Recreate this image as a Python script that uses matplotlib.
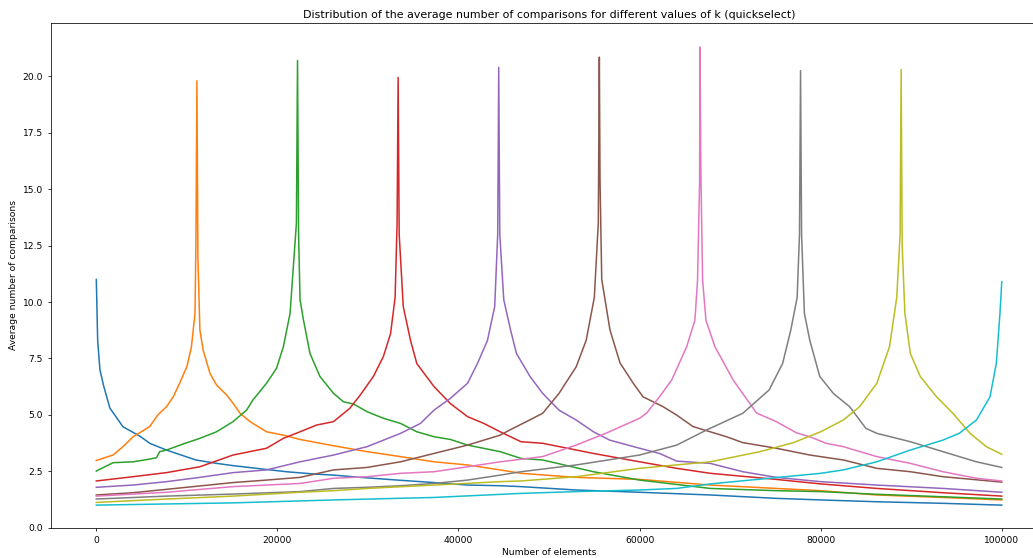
import matplotlib
matplotlib.use("Agg")
import matplotlib.pyplot as plt

# k values where each curve peaks
k_values = [0, 11111, 22222, 33333, 44444, 55555, 66666, 77777, 88888, 100000]

# values, one (x, y) list pair per k
x_k0 = [0, 150, 400, 800, 1500, 2950, 4800, 5900, 7750, 11000, 13300, 15100, 18800,
        21000, 24000, 26200, 29150, 33600, 37300, 41000, 44600, 46900, 53000, 60000,
        67800, 75100, 80000, 86200, 93500, 100000]
y_k0 = [11.0, 8.3, 7.0, 6.3, 5.3, 4.47, 4.06, 3.74, 3.44, 3.0, 2.85, 2.75, 2.58,
        2.48, 2.38, 2.33, 2.23, 2.1, 2.0, 1.89, 1.86, 1.82, 1.67, 1.57,
        1.45, 1.3, 1.23, 1.15, 1.08, 1.0]

x_k1 = [0, 1850, 2950, 4060, 4800, 5900, 6800, 7750, 8500, 9200, 10000, 10500, 10900,
        11000, 11111, 11220, 11440, 11800, 12550, 13280, 14390, 15130, 15870, 16980,
        18800, 20660, 22500, 24350, 26200, 29900, 33600, 37300, 41000, 44600, 46900,
        53000, 60000, 67800, 75100, 80000, 86200, 93500, 100000]
y_k1 = [2.98, 3.22, 3.59, 4.03, 4.21, 4.48, 5.0, 5.36, 5.8, 6.4, 7.13, 8.0, 9.5,
        12.5, 19.8, 12.0, 8.76, 7.87, 6.84, 6.32, 5.88, 5.5, 5.07, 4.7,
        4.25, 4.1, 3.91, 3.77, 3.63, 3.37, 3.15, 2.92, 2.78, 2.56, 2.41,
        2.23, 2.14, 1.89, 1.74, 1.64, 1.45, 1.34, 1.23]

x_k2 = [0, 1850, 4060, 5900, 6640, 7000, 7750, 9600, 11440, 13280, 15100, 16600, 17300,
        18800, 19900, 20660, 21400, 22100, 22222, 22340, 22500, 22880, 23600, 24700,
        26200, 27300, 28400, 29900, 31700, 33600, 35400, 37300, 39100, 41000, 44600,
        46900, 49300, 54900, 60000, 67800, 75100, 80000, 86200, 93500, 100000]
y_k2 = [2.51, 2.88, 2.92, 3.04, 3.1, 3.37, 3.44, 3.71, 3.96, 4.25, 4.7, 5.21, 5.66,
        6.4, 7.06, 8.02, 9.5, 13.5, 20.7, 13.0, 10.1, 9.2, 7.72, 6.7,
        5.95, 5.58, 5.48, 5.14, 4.85, 4.62, 4.25, 4.03, 3.91, 3.66, 3.37,
        3.07, 3.0, 2.48, 2.11, 1.74, 1.64, 1.6, 1.48, 1.37, 1.27]

x_k3 = [0, 4060, 7750, 11440, 15100, 18800, 20660, 22500, 24350, 26200, 28000, 29150,
        30600, 31700, 32500, 33000, 33220, 33333, 33450, 33900, 34700, 35400, 37300,
        39100, 41000, 42800, 44600, 46900, 49300, 54900, 60000, 64100, 67800, 75100,
        80000, 86200, 93500, 100000]
y_k3 = [2.07, 2.26, 2.44, 2.7, 3.22, 3.52, 3.96, 4.25, 4.55, 4.7, 5.29, 5.88,
        6.7, 7.58, 8.6, 10.2, 13.5, 19.95, 13.0, 9.8, 8.3, 7.27, 6.25,
        5.5, 4.92, 4.62, 4.25, 3.81, 3.74, 3.29, 2.92, 2.63, 2.41, 2.14,
        1.94, 1.74, 1.55, 1.4]

x_k4 = [0, 4060, 7750, 11440, 15100, 18800, 22500, 26200, 29900, 33600, 35800, 37300,
        39100, 41000, 42100, 43200, 44000, 44330, 44444, 44560, 45000, 45750, 46400,
        47900, 49300, 51100, 53000, 54900, 56700, 60000, 62200, 64100, 67800, 71400,
        75100, 80000, 86200, 93500, 100000]
y_k4 = [1.79, 1.89, 2.04, 2.23, 2.44, 2.56, 2.92, 3.22, 3.59, 4.18, 4.62, 5.21,
        5.73, 6.4, 7.28, 8.3, 9.8, 13.0, 20.4, 13.0, 10.1, 8.76, 7.72,
        6.7, 5.95, 5.21, 4.77, 4.25, 3.88, 3.52, 3.29, 2.95, 2.85, 2.48,
        2.23, 2.04, 1.89, 1.74, 1.57]

x_k5 = [0, 4060, 7750, 11440, 15100, 18800, 22500, 26200, 29900, 33600, 37300, 41000,
        44600, 45670, 47500, 49300, 51100, 53000, 54100, 55000, 55440, 55555, 55630,
        55820, 56730, 57840, 59300, 60380, 62600, 64100, 65900, 67800, 69600, 71400,
        75100, 78800, 82500, 86200, 89900, 93500, 100000]
y_k5 = [1.45, 1.55, 1.7, 1.85, 2.0, 2.11, 2.23, 2.56, 2.67, 2.92, 3.29, 3.66,
        4.1, 4.33, 4.7, 5.07, 5.95, 7.13, 8.3, 10.2, 13.5, 20.85, 15.4,
        11.0, 8.76, 7.3, 6.4, 5.8, 5.36, 4.99, 4.48, 4.25, 4.03, 3.77,
        3.52, 3.22, 3.0, 2.63, 2.48, 2.26, 2.02]

x_k6 = [0, 7750, 15100, 22500, 26200, 29900, 33600, 37300, 41000, 44600, 49300, 53000,
        56370, 60000, 60780, 62200, 63540, 65200, 66110, 66400, 66630, 66666, 66780,
        66960, 67330, 68320, 70340, 72920, 75100, 77340, 78800, 80600, 82500, 86200,
        89900, 93500, 97200, 100000]
y_k6 = [1.4, 1.57, 1.82, 1.96, 2.19, 2.26, 2.41, 2.48, 2.7, 2.92, 3.15, 3.66,
        4.2, 4.85, 5.08, 5.8, 6.54, 8.02, 9.19, 10.97, 15.4, 21.3, 15.4,
        10.97, 9.19, 8.02, 6.54, 5.08, 4.7, 4.2, 4.03, 3.74, 3.59, 3.15,
        2.85, 2.48, 2.19, 2.07]

x_k7 = [0, 7750, 15100, 22500, 26200, 29900, 33600, 37300, 41000, 44600, 46900, 53000,
        60000, 64100, 67400, 71400, 74300, 75800, 76700, 77400, 77660, 77777, 77890,
        78200, 78800, 79900, 81400, 83200, 85000, 86200, 89900, 93500, 97200, 100000]
y_k7 = [1.27, 1.4, 1.49, 1.6, 1.74, 1.79, 1.86, 1.96, 2.11, 2.33, 2.48, 2.78,
        3.22, 3.66, 4.33, 5.07, 6.1, 7.28, 8.76, 10.2, 13.0, 20.25, 13.0,
        9.5, 8.3, 6.7, 5.95, 5.36, 4.4, 4.18, 3.81, 3.37, 2.92, 2.67]

x_k8 = [0, 7750, 15100, 22500, 26200, 29900, 37300, 44600, 46900, 53000, 60000, 67800,
        73300, 77000, 80000, 82500, 84300, 86200, 87600, 88400, 88770, 88888, 89000,
        89300, 89900, 91000, 92800, 94600, 96500, 98300, 100000]
y_k8 = [1.12, 1.27, 1.4, 1.57, 1.64, 1.74, 1.89, 2.04, 2.07, 2.26, 2.63, 2.92,
        3.37, 3.77, 4.25, 4.77, 5.36, 6.4, 8.02, 10.2, 13.0, 20.3, 12.5,
        9.5, 7.72, 6.7, 5.8, 5.07, 4.18, 3.59, 3.25]

x_k9 = [0, 15100, 26200, 37300, 46900, 53000, 60000, 64100, 67800, 75100, 80000, 82500,
        86200, 89900, 93500, 95300, 97200, 98700, 99400, 99800, 100000]
y_k9 = [1.0, 1.1, 1.23, 1.34, 1.52, 1.6, 1.67, 1.74, 1.94, 2.22, 2.41, 2.56,
        2.92, 3.44, 3.88, 4.18, 4.77, 5.8, 7.28, 9.5, 10.9]

series_x = [x_k0, x_k1, x_k2, x_k3, x_k4, x_k5, x_k6, x_k7, x_k8, x_k9]
series_y = [y_k0, y_k1, y_k2, y_k3, y_k4, y_k5, y_k6, y_k7, y_k8, y_k9]

fig = plt.figure(figsize=(10.33, 5.58), dpi=100)
ax = fig.add_axes([0.0494, 0.0543, 0.9642, 0.904])

for k, xs, ys in zip(k_values, series_x, series_y):
    ax.plot(xs, ys, linewidth=1.1, label="k={}".format(k))

ax.set_xlim(-5000, 105000)
ax.set_ylim(0, 22.35)
ax.set_xticks([0, 20000, 40000, 60000, 80000, 100000])
ax.set_yticks([0, 2.5, 5, 7.5, 10, 12.5, 15, 17.5, 20])
ax.tick_params(labelsize=6.6, length=2.3, width=0.55)
for s in ax.spines.values():
    s.set_linewidth(0.55)

ax.set_xlabel("Number of elements", fontsize=6.6, labelpad=2.5)
ax.set_ylabel("Average number of comparisons", fontsize=6.6, labelpad=3)
ax.set_title("Distribution of the average number of comparisons for different values of k (quickselect)",
             fontsize=7.9, pad=4)

plt.savefig("out.png", dpi=100)
